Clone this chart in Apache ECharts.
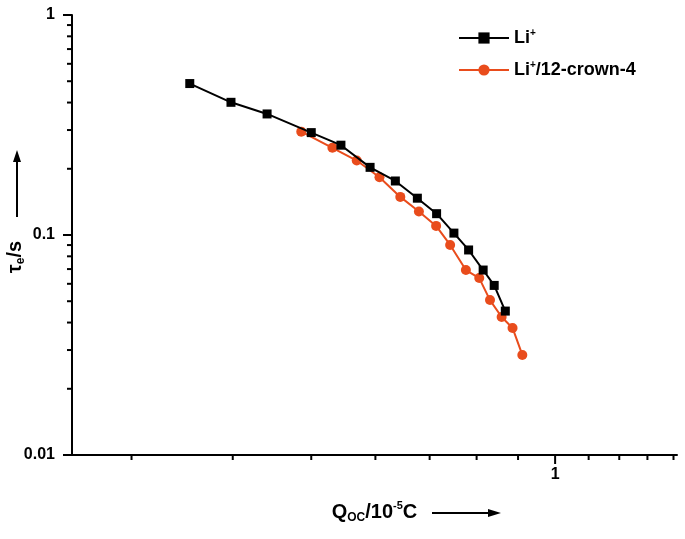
<!DOCTYPE html>
<html><head><meta charset="utf-8">
<script src="https://cdn.jsdelivr.net/npm/echarts@6/dist/echarts.min.js"></script>
<style>html,body{margin:0;padding:0;background:#fff}#c{width:685px;height:539px}</style>
</head><body><div id="c"></div>
<script>
// ---- data ----
const liName = 'Li+';
const crownName = 'Li+/12-crown-4';
const liX = [0.354, 0.398, 0.441, 0.500, 0.544, 0.591, 0.635, 0.676, 0.714, 0.750, 0.782, 0.815, 0.841, 0.868];
const liY = [0.488, 0.401, 0.355, 0.292, 0.256, 0.203, 0.176, 0.147, 0.125, 0.102, 0.0855, 0.0693, 0.0590, 0.0451];
const crownX = [0.486, 0.531, 0.569, 0.607, 0.644, 0.679, 0.713, 0.742, 0.776, 0.806, 0.831, 0.859, 0.886, 0.911];
const crownY = [0.295, 0.249, 0.218, 0.183, 0.149, 0.128, 0.110, 0.0901, 0.0693, 0.0637, 0.0506, 0.0424, 0.0378, 0.0285];
const xRange = [0.2533, 1.414];
const yRange = [0.01, 1];
const xMajorTicks = [1];
const xMinorTicks = [0.3, 0.4, 0.5, 0.6, 0.7, 0.8, 0.9, 1.1, 1.2, 1.3, 1.4];
const yMinorTicks = [0.02, 0.03, 0.04, 0.05, 0.06, 0.07, 0.08, 0.09, 0.2, 0.3, 0.4, 0.5, 0.6, 0.7, 0.8, 0.9];

const FONT = '"Liberation Sans", Arial, sans-serif';
const ORANGE = '#e94c1c';

function tickSeries(values, axis, len) {
  return {
    type: 'custom', silent: true, clip: false, z: 1,
    data: values.map(v => axis === 'x' ? [v, yRange[0]] : [xRange[0], v]),
    renderItem: (params, api) => {
      const p = api.coord([api.value(0), api.value(1)]);
      const shape = axis === 'x'
        ? {x1: p[0], y1: p[1], x2: p[0], y2: p[1] + len}
        : {x1: p[0], y1: p[1], x2: p[0] - len, y2: p[1]};
      return {type: 'line', shape: shape, style: {stroke: '#000', lineWidth: 2}};
    }
  };
}

const main = {fontSize: 20, fontWeight: 'bold', fontFamily: FONT, color: '#000', lineHeight: 24};
const sub = {fontSize: 12, fontWeight: 'bold', fontFamily: FONT, color: '#000', lineHeight: 12, verticalAlign: 'bottom'};
const sup = {fontSize: 11, fontWeight: 'bold', fontFamily: FONT, color: '#000', lineHeight: 12, verticalAlign: 'top'};

const chart = echarts.init(document.getElementById('c'), null, {renderer: 'canvas'});
chart.setOption({
  animation: false,
  backgroundColor: '#fff',
  grid: {left: 72, right: 8, top: 15, bottom: 84, containLabel: false, outerBoundsMode: 'none'},
  legend: {
    data: [liName, crownName],
    orient: 'vertical', left: 458, top: 28, padding: 0,
    itemWidth: 50, itemHeight: 14, itemGap: 13,
    textStyle: {
      fontSize: 18, fontWeight: 'bold', fontFamily: FONT, color: '#000',
      rich: {
        b: {fontSize: 18, fontWeight: 'bold', fontFamily: FONT, color: '#000', lineHeight: 20},
        s: {fontSize: 10, fontWeight: 'bold', fontFamily: FONT, color: '#000', lineHeight: 10, verticalAlign: 'top'}
      }
    },
    formatter: n => n === liName ? '{b|Li}{s|+}' : '{b|Li}{s|+}{b|/12-crown-4}'
  },
  xAxis: {
    type: 'log', min: xRange[0], max: xRange[1],
    name: '{m|Q}{d|OC}{m|/10}{u|-5}{m|C}',
    nameLocation: 'middle', nameGap: 45,
    nameTextStyle: {rich: {m: main, d: sub, u: sup}},
    axisLine: {lineStyle: {color: '#000', width: 2}},
    axisTick: {show: false},
    splitLine: {show: false},
    axisLabel: {showMinLabel: false, showMaxLabel: false, margin: 12,
      fontSize: 16, fontWeight: 'bold', fontFamily: FONT, color: '#000'}
  },
  yAxis: {
    type: 'log', min: yRange[0], max: yRange[1],
    name: '{m|τ}{d|e}{m|/s}',
    nameLocation: 'middle', nameRotate: 90, nameGap: 45, nameMoveOverlap: false,
    nameTextStyle: {padding: [0, 44, 0, 0], rich: {m: main, d: sub}},
    axisLine: {lineStyle: {color: '#000', width: 2}},
    axisTick: {length: 9, lineStyle: {color: '#000', width: 2}},
    splitLine: {show: false},
    axisLabel: {margin: 17, fontSize: 16, fontWeight: 'bold', fontFamily: FONT, color: '#000'}
  },
  graphic: [
    {type: 'line', shape: {x1: 17, y1: 217, x2: 17, y2: 160}, style: {stroke: '#000', lineWidth: 2}},
    {type: 'polygon', shape: {points: [[17, 150], [13, 162], [21, 162]]}, style: {fill: '#000'}},
    {type: 'line', shape: {x1: 432, y1: 513, x2: 490, y2: 513}, style: {stroke: '#000', lineWidth: 2}},
    {type: 'polygon', shape: {points: [[501, 513], [488, 509], [488, 517]]}, style: {fill: '#000'}}
  ],
  series: [
    {
      name: liName, type: 'line', z: 4,
      data: liX.map((x, i) => [x, liY[i]]),
      symbol: 'rect', symbolSize: 9,
      lineStyle: {color: '#000', width: 2},
      itemStyle: {color: '#000'}
    },
    {
      name: crownName, type: 'line', z: 3,
      data: crownX.map((x, i) => [x, crownY[i]]),
      symbol: 'circle', symbolSize: 10,
      lineStyle: {color: ORANGE, width: 2},
      itemStyle: {color: ORANGE}
    },
    tickSeries(xMajorTicks, 'x', 9),
    tickSeries(xMinorTicks, 'x', 5),
    tickSeries(yMinorTicks, 'y', 5)
  ]
});
</script>
</body></html>
